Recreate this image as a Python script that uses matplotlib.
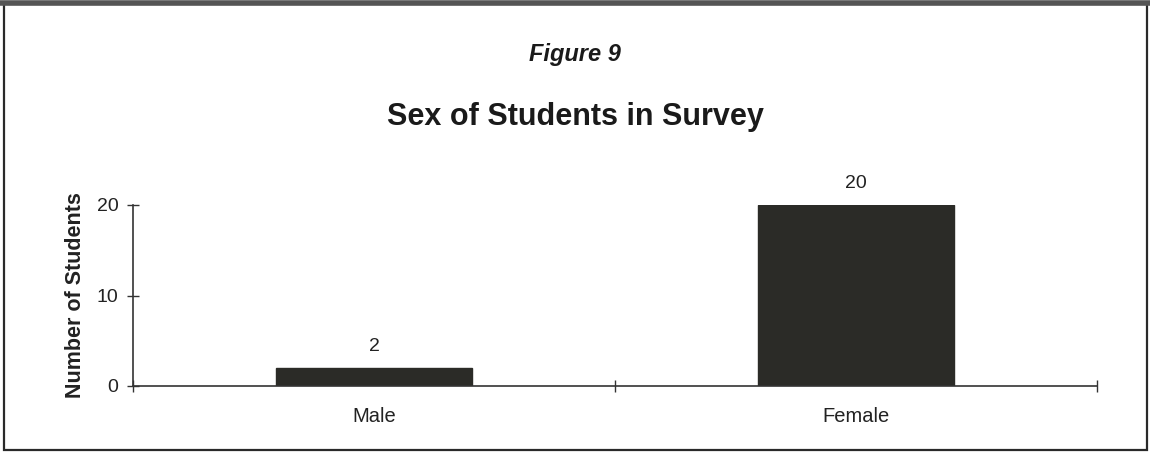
import matplotlib
matplotlib.use("Agg")
import matplotlib.pyplot as plt
from matplotlib.patches import Rectangle
from matplotlib.lines import Line2D

categories = ["Male", "Female"]
counts = [2, 20]
yticks = [0, 10, 20]

plt.rcParams['font.family'] = ['Liberation Sans', 'DejaVu Sans']

W, H = 1150, 454
fig = plt.figure(figsize=(W / 100, H / 100), dpi=100)
fig.patch.set_facecolor("white")

# outer frame
fig.add_artist(Rectangle((4 / W, 4 / H), 1143 / W, 446 / H, transform=fig.transFigure,
                         fill=False, edgecolor="#2a2a2a", linewidth=1.6))
fig.add_artist(Line2D([0, 1], [1 - 2.5 / H, 1 - 2.5 / H], transform=fig.transFigure,
                      color="#555555", linewidth=4))

ax = fig.add_axes([133 / W, 1 - 386 / H, (1097 - 133) / W, (386 - 205) / H])
x = list(range(len(categories)))
ax.bar(x, counts, width=0.405, color="#2b2b27", edgecolor="#2b2b27")
ax.set_xlim(-0.5, len(categories) - 0.5)
ax.set_ylim(0, 20)

for xi, v in zip(x, counts):
    ax.text(xi, v + 1.4, str(v), ha="center", va="bottom", fontsize=14, color="#222222")

ax.set_yticks(yticks)
ax.set_yticklabels([str(t) for t in yticks], fontsize=14, color="#222222")
ax.set_xticks(x)
ax.set_xticklabels(categories, fontsize=14.5, color="#222222")
ax.tick_params(axis="x", which="major", length=0, pad=15)
ax.set_xticks([i - 0.5 for i in range(len(categories) + 1)], minor=True)
ax.tick_params(axis="x", which="minor", direction="inout", length=9, width=1, color="#333333")
ax.tick_params(axis="y", direction="inout", length=9, width=1, color="#333333", pad=6)

for s in ["top", "right"]:
    ax.spines[s].set_visible(False)
for s in ["left", "bottom"]:
    ax.spines[s].set_color("#333333")
    ax.spines[s].set_linewidth(1.2)

ax.set_ylabel("Number of Students", fontsize=15.5, fontweight="bold", color="#222222", labelpad=8)

fig.text(0.5, 1 - 55 / H, "Figure 9", ha="center", va="center", fontsize=17,
         fontweight="bold", fontstyle="italic", color="#1a1a1a")
fig.text(0.5, 1 - 117 / H, "Sex of Students in Survey", ha="center", va="center", fontsize=22,
         fontweight="bold", color="#1a1a1a")

fig.savefig("out.png", dpi=100)
